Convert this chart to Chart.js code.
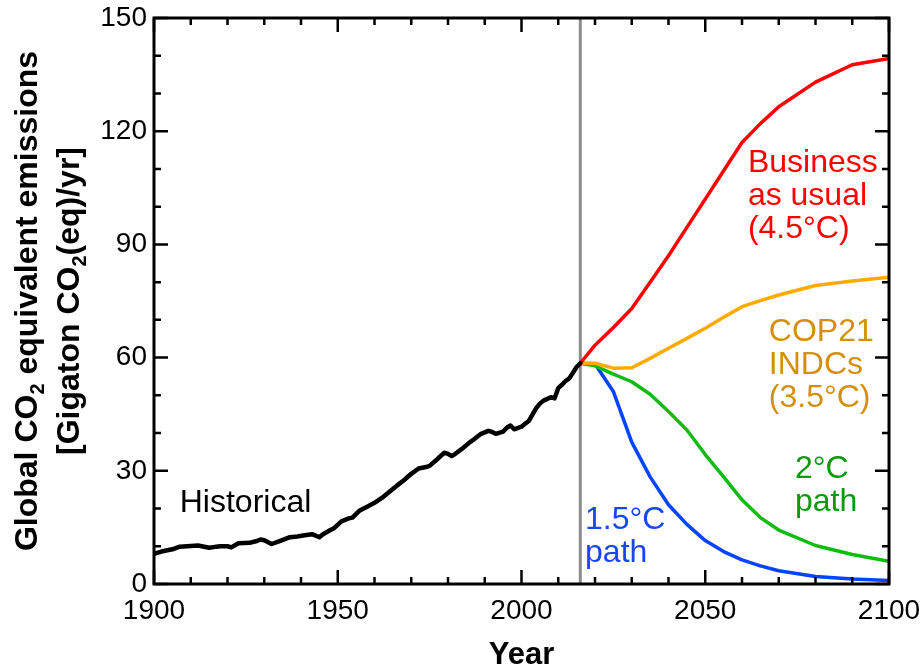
<!DOCTYPE html>
<html>
<head>
<meta charset="utf-8">
<script src="https://cdn.jsdelivr.net/npm/chart.js@4.4.0/dist/chart.umd.min.js"></script>
<style>
  html, body { margin: 0; padding: 0; background: #fff; }
</style>
</head>
<body>
<canvas id="emissionsChart" width="924" height="666"></canvas>
<script>
// historical emissions (Gt CO2eq / yr)
const histYears = [1900, 1902, 1905, 1907, 1910, 1912, 1914, 1915, 1917, 1918, 1920, 1921, 1923, 1926, 1928, 1929, 1930, 1932, 1934, 1937, 1939, 1941, 1943, 1945, 1946, 1948, 1949, 1951, 1953, 1954, 1956, 1958, 1960, 1962, 1964, 1966, 1968, 1970, 1972, 1974, 1975, 1977, 1979, 1980, 1981, 1982, 1984, 1986, 1987, 1989, 1991, 1992, 1993, 1995, 1996, 1997, 1998, 2000, 2001, 2002, 2004, 2005, 2006, 2008, 2009, 2010, 2011, 2012, 2013, 2014, 2015, 2016];
const histEmissions = [8.0, 8.6, 9.2, 9.9, 10.1, 10.2, 9.8, 9.6, 9.9, 10.0, 10.0, 9.7, 10.8, 10.9, 11.4, 11.8, 11.6, 10.6, 11.3, 12.4, 12.6, 12.9, 13.2, 12.4, 13.2, 14.3, 14.8, 16.6, 17.4, 17.6, 19.5, 20.5, 21.5, 22.8, 24.4, 26.0, 27.5, 29.2, 30.6, 31.0, 31.3, 33.0, 34.8, 34.5, 33.9, 34.5, 36.0, 37.6, 38.3, 39.8, 40.6, 40.3, 39.8, 40.4, 41.4, 42.0, 41.0, 41.7, 42.5, 43.2, 46.6, 47.8, 48.6, 49.5, 49.2, 51.9, 52.8, 53.8, 54.5, 56.0, 57.5, 58.5];

// scenarios
const scenYears = [2016, 2020, 2025, 2030, 2035, 2040, 2045, 2050, 2055, 2060, 2065, 2070, 2080, 2090, 2100];
const businessAsUsual = [58.5, 63.3, 68.0, 73.0, 80.0, 87.0, 94.5, 102.0, 109.5, 117.0, 122.0, 126.5, 133.0, 137.6, 139.3];
const cop21Indcs = [58.5, 58.5, 57.2, 57.3, 59.8, 62.5, 65.1, 67.8, 70.7, 73.5, 75.1, 76.6, 79.1, 80.3, 81.3];
const path2C = [58.5, 57.8, 55.6, 53.6, 50.3, 45.7, 40.8, 34.3, 28.4, 22.3, 17.6, 14.3, 10.2, 7.8, 6.0];
const path15C = [58.5, 58.3, 51.0, 37.6, 28.4, 21.0, 15.8, 11.5, 8.6, 6.4, 4.8, 3.5, 2.0, 1.3, 0.9];

const presentYear = 2016;
const xTicks = [1900, 1950, 2000, 2050, 2100];
const yTicks = [0, 30, 60, 90, 120, 150];

// labels next to the curves (x in years, y = baseline of first line in Gt)
const curveLabels = [
  { lines: ['Business', 'as usual', '(4.5°C)'], x: 2061.6, y: 109.2, color: '#ff0000' },
  { lines: ['COP21', 'INDCs', '(3.5°C)'], x: 2067.3, y: 64.4, color: '#d4900c' },
  { lines: ['2°C', 'path'], x: 2074.4, y: 28.1, color: '#0a9a0a' },
  { lines: ['1.5°C', 'path'], x: 2017.3, y: 14.6, color: '#1747f5' },
  { lines: ['Historical'], x: 1907.0, y: 19.0, color: '#000000' }
];

const FONT = "'Liberation Sans', Arial, sans-serif";
Chart.defaults.font.family = FONT;
Chart.defaults.color = '#000';

function toPoints(xs, ys) {
  return xs.map((x, i) => ({ x: x, y: ys[i] }));
}

// drop the label overflow padding so the layout padding alone sets the plot box
function noOverflow(s) {
  s.paddingLeft = 0; s.paddingRight = 0; s.paddingTop = 0; s.paddingBottom = 0;
}

// gray line at the present year, behind the curves
const presentLine = {
  id: 'presentLine',
  beforeDatasetsDraw(chart) {
    const { ctx, chartArea, scales } = chart;
    const px = scales.x.getPixelForValue(presentYear);
    ctx.save();
    ctx.strokeStyle = '#8c8c8c';
    ctx.lineWidth = 3;
    ctx.beginPath();
    ctx.moveTo(px, chartArea.top);
    ctx.lineTo(px, chartArea.bottom);
    ctx.stroke();
    ctx.restore();
  }
};

// box frame with inward ticks on all four sides, plus texts
const frameAndText = {
  id: 'frameAndText',
  afterDatasetsDraw(chart) {
    const { ctx, chartArea: a, scales } = chart;
    ctx.save();
    ctx.strokeStyle = '#000';
    ctx.lineWidth = 2.5;
    ctx.beginPath();
    for (let yr = 1900; yr <= 2100; yr += 10) {
      const px = scales.x.getPixelForValue(yr);
      const len = yr % 50 === 0 ? 14 : 7;
      ctx.moveTo(px, a.bottom); ctx.lineTo(px, a.bottom - len);
      ctx.moveTo(px, a.top); ctx.lineTo(px, a.top + len);
    }
    for (let v = 0; v <= 150; v += 10) {
      const py = scales.y.getPixelForValue(v);
      const len = v % 30 === 0 ? 14 : 7;
      ctx.moveTo(a.left, py); ctx.lineTo(a.left + len, py);
      ctx.moveTo(a.right, py); ctx.lineTo(a.right - len, py);
    }
    ctx.stroke();
    ctx.lineWidth = 3;
    ctx.strokeRect(a.left, a.top, a.right - a.left, a.bottom - a.top);

    // curve labels
    ctx.font = '32px ' + FONT;
    ctx.textAlign = 'left';
    ctx.textBaseline = 'alphabetic';
    curveLabels.forEach(lab => {
      const px = scales.x.getPixelForValue(lab.x);
      const py = scales.y.getPixelForValue(lab.y);
      ctx.fillStyle = lab.color;
      lab.lines.forEach((t, i) => ctx.fillText(t, px, py + i * 33));
    });

    // x axis title
    ctx.fillStyle = '#000';
    ctx.font = 'bold 31px ' + FONT;
    ctx.textAlign = 'center';
    ctx.fillText('Year', (a.left + a.right) / 2, 664);

    // y axis title, two lines with subscripts
    const drawLine = (parts, baseX) => {
      const big = 'bold 32px ' + FONT, small = 'bold 20px ' + FONT;
      let total = 0;
      parts.forEach(p => { ctx.font = p.sub ? small : big; total += ctx.measureText(p.t).width; });
      ctx.save();
      ctx.translate(baseX, (a.top + a.bottom) / 2);
      ctx.rotate(-Math.PI / 2);
      ctx.textAlign = 'left';
      let x = -total / 2;
      parts.forEach(p => {
        ctx.font = p.sub ? small : big;
        ctx.fillText(p.t, x, p.sub ? 7 : 0);
        x += ctx.measureText(p.t).width;
      });
      ctx.restore();
    };
    drawLine([{ t: 'Global CO' }, { t: '2', sub: true }, { t: ' equivalent emissions' }], 37);
    drawLine([{ t: '[Gigaton CO' }, { t: '2', sub: true }, { t: '(eq)/yr]' }], 79);
    ctx.restore();
  }
};

const ctx = document.getElementById('emissionsChart').getContext('2d');
const lineDefaults = { pointRadius: 0, tension: 0, fill: false, borderJoinStyle: 'round', borderCapStyle: 'round' };

const emissionsChart = new Chart(ctx, {
  type: 'line',
  data: {
    datasets: [
      { ...lineDefaults, label: 'Historical', data: toPoints(histYears, histEmissions), borderColor: '#000', borderWidth: 4.5 },
      { ...lineDefaults, label: 'Business as usual', data: toPoints(scenYears, businessAsUsual), borderColor: '#ff0000', borderWidth: 3.5 },
      { ...lineDefaults, label: 'COP21 INDCs', data: toPoints(scenYears, cop21Indcs), borderColor: '#ffaa00', borderWidth: 3.5 },
      { ...lineDefaults, label: '2°C path', data: toPoints(scenYears, path2C), borderColor: '#11bb11', borderWidth: 3.5 },
      { ...lineDefaults, label: '1.5°C path', data: toPoints(scenYears, path15C), borderColor: '#0044ff', borderWidth: 3.5 }
    ]
  },
  options: {
    responsive: false,
    animation: false,
    devicePixelRatio: 1,
    layout: { padding: { left: 0, top: 18, right: 35, bottom: 0 } },
    plugins: { legend: { display: false }, tooltip: { enabled: false } },
    scales: {
      x: {
        type: 'linear',
        min: 1900,
        max: 2100,
        afterFit: s => { s.height = 82; noOverflow(s); },
        afterBuildTicks: s => { s.ticks = xTicks.map(v => ({ value: v })); },
        grid: { display: false, drawTicks: false },
        border: { display: false },
        ticks: { padding: 10, maxRotation: 0, font: { size: 28 }, callback: v => String(v) }
      },
      y: {
        min: 0,
        max: 150,
        afterFit: s => { s.width = 154; noOverflow(s); },
        afterBuildTicks: s => { s.ticks = yTicks.map(v => ({ value: v })); },
        grid: { display: false, drawTicks: false },
        border: { display: false },
        ticks: { padding: 7, font: { size: 28 } }
      }
    }
  },
  plugins: [presentLine, frameAndText]
});
</script>
</body>
</html>
